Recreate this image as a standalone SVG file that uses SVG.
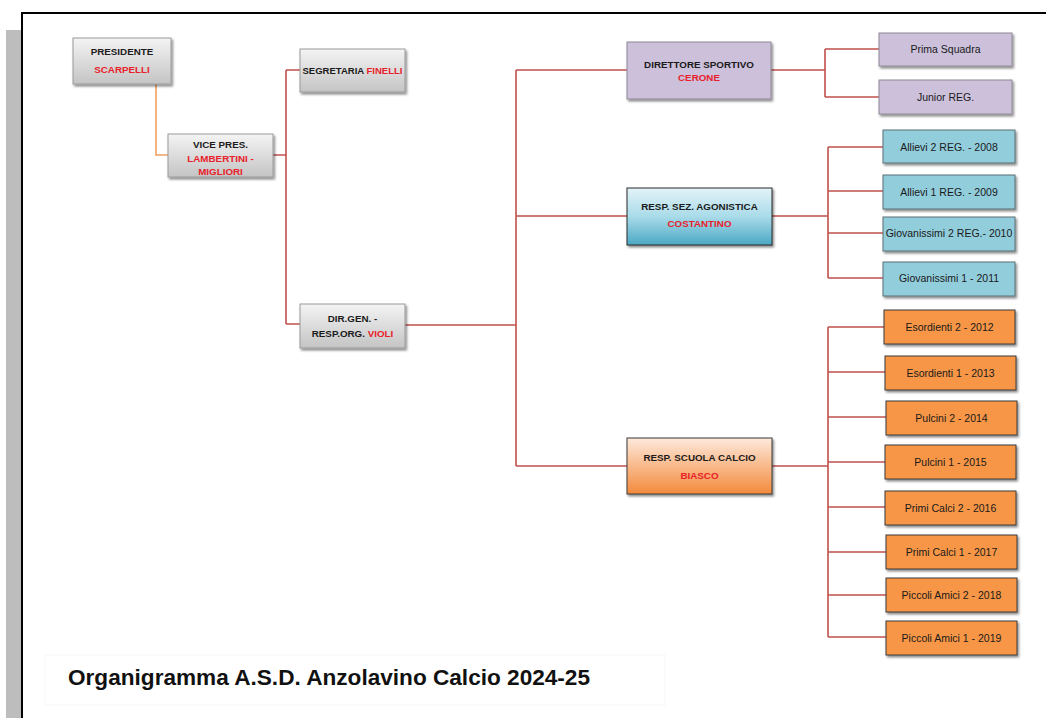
<svg xmlns="http://www.w3.org/2000/svg" width="1046" height="718" viewBox="0 0 1046 718">
<defs>
<linearGradient id="gGrey" x1="0" y1="0" x2="0" y2="1"><stop offset="0" stop-color="#f4f4f4"/><stop offset="1" stop-color="#c4c4c4"/></linearGradient>
<linearGradient id="gBlue" x1="0" y1="0" x2="0" y2="1"><stop offset="0" stop-color="#e4f3f8"/><stop offset="0.5" stop-color="#a9dbe9"/><stop offset="1" stop-color="#4aa8c4"/></linearGradient>
<linearGradient id="gOrange" x1="0" y1="0" x2="0" y2="1"><stop offset="0" stop-color="#fde9dc"/><stop offset="0.5" stop-color="#f9b98a"/><stop offset="1" stop-color="#f38a3c"/></linearGradient>
<filter id="sh" x="-10%" y="-10%" width="125%" height="140%"><feDropShadow dx="1.5" dy="2" stdDeviation="1.2" flood-color="#000" flood-opacity="0.45"/></filter>
<style>
.box{stroke-width:1;filter:url(#sh)}
.grey{fill:url(#gGrey);stroke:#9a9a9a}
.purple{fill:#ccc0da;stroke:#8e8896}
.bluegr{fill:url(#gBlue);stroke:#2b2b2b}
.blue{fill:#92cddc;stroke:#5b6f75}
.orgr{fill:url(#gOrange);stroke:#3a3a3a}
.orange{fill:#f79646;stroke:#3a3a3a}
text{font-family:"Liberation Sans",Arial,sans-serif}
.h{font-size:9.8px;font-weight:bold;fill:#1a1a1a;text-anchor:middle}
.r{fill:#e8202a}
.c{font-size:10.5px;fill:#1a1a1a;text-anchor:middle}
.ln{fill:none;stroke:#c0504d;stroke-width:1.6}
.lo{fill:none;stroke:#f0a060;stroke-width:1.6}
</style>
</defs>
<rect x="0" y="0" width="1046" height="718" fill="#ffffff"/>
<rect x="6" y="30" width="15" height="688" fill="#bdbdbd"/>
<path d="M22 718 V13 H1046" fill="none" stroke="#000" stroke-width="2"/>
<rect x="45" y="655" width="620" height="50" fill="none" stroke="#f7f7f7" stroke-width="1"/>
<text x="68" y="685" font-size="22" font-weight="bold" fill="#111" textLength="522" lengthAdjust="spacingAndGlyphs">Organigramma A.S.D. Anzolavino Calcio 2024-25</text>

<g id="connectors">
<path class="lo" d="M156 84 V155 H168"/>
<path class="ln" d="M273 155 H286 M286 70 V324 M286 70 H300 M286 324 H300"/>
<path class="ln" d="M405 325 H516 M516 70 V466 M516 70 H627 M516 216 H627 M516 466 H627"/>
<path class="ln" d="M771 70 H825 M825 49 V97 M825 49 H879 M825 97 H879"/>
<path class="ln" d="M772 216 H828 M828 147 V278 M828 147 H883 M828 191 H883 M828 233 H883 M828 278 H883"/>
<path class="ln" d="M772 466 H828 M828 327 V637 M828 327 H884 M828 372 H885 M828 417 H886 M828 462 H885 M828 507 H885 M828 552 H886 M828 595 H886 M828 637 H886"/>
</g>

<g id="presidente"><rect class="box grey" x="73" y="38" width="98" height="46"/>
<text class="h" x="122" y="55">PRESIDENTE</text><text class="h r" x="122" y="73">SCARPELLI</text></g>

<g id="vicepres"><rect class="box grey" x="168" y="134" width="105" height="43"/>
<text class="h" x="220.5" y="148">VICE PRES.</text><text class="h r" x="220.5" y="162">LAMBERTINI -</text><text class="h r" x="220.5" y="175">MIGLIORI</text></g>

<g id="segretaria"><rect class="box grey" x="300" y="49" width="105" height="43"/>
<text class="h" x="352.5" y="74" textLength="100" lengthAdjust="spacingAndGlyphs">SEGRETARIA <tspan class="r">FINELLI</tspan></text></g>

<g id="dirgen"><rect class="box grey" x="300" y="304" width="105" height="44"/>
<text class="h" x="352.5" y="322">DIR.GEN. -</text><text class="h" x="352.5" y="337">RESP.ORG. <tspan class="r">VIOLI</tspan></text></g>

<g id="direttore"><rect class="box purple" x="627" y="42" width="144" height="57"/>
<text class="h" x="699" y="67.5">DIRETTORE SPORTIVO</text><text class="h r" x="699" y="80.5">CERONE</text></g>

<g id="agonistica"><rect class="box bluegr" x="627" y="188" width="145" height="57"/>
<text class="h" x="699.5" y="210">RESP. SEZ. AGONISTICA</text><text class="h r" x="699.5" y="227">COSTANTINO</text></g>

<g id="scuola"><rect class="box orgr" x="627" y="438" width="145" height="56"/>
<text class="h" x="699.5" y="460.5">RESP. SCUOLA CALCIO</text><text class="h r" x="699.5" y="479">BIASCO</text></g>

<g id="prima"><rect class="box purple" x="879" y="33" width="133" height="33"/><text class="c" x="945.5" y="53">Prima Squadra</text></g>
<g id="junior"><rect class="box purple" x="879" y="80" width="133" height="34"/><text class="c" x="945.5" y="101">Junior REG.</text></g>

<g id="allievi2"><rect class="box blue" x="883" y="130" width="132" height="33"/><text class="c" x="949" y="150.5">Allievi 2 REG. - 2008</text></g>
<g id="allievi1"><rect class="box blue" x="883" y="175" width="132" height="34"/><text class="c" x="949" y="195.5">Allievi 1 REG. - 2009</text></g>
<g id="giov2"><rect class="box blue" x="883" y="217" width="132" height="34"/><text class="c" x="949" y="237">Giovanissimi 2 REG.- 2010</text></g>
<g id="giov1"><rect class="box blue" x="883" y="262" width="132" height="34"/><text class="c" x="949" y="282">Giovanissimi 1 - 2011</text></g>

<g id="esord2"><rect class="box orange" x="884" y="310" width="131" height="34"/><text class="c" x="949.5" y="331">Esordienti 2 - 2012</text></g>
<g id="esord1"><rect class="box orange" x="885" y="356" width="131" height="34"/><text class="c" x="950.5" y="376.5">Esordienti 1 - 2013</text></g>
<g id="pulcini2"><rect class="box orange" x="886" y="401" width="131" height="34"/><text class="c" x="951.5" y="421.5">Pulcini 2 - 2014</text></g>
<g id="pulcini1"><rect class="box orange" x="885" y="445" width="131" height="34"/><text class="c" x="950.5" y="466">Pulcini 1 - 2015</text></g>
<g id="primicalci2"><rect class="box orange" x="885" y="491" width="131" height="34"/><text class="c" x="950.5" y="511.5">Primi Calci 2 - 2016</text></g>
<g id="primicalci1"><rect class="box orange" x="886" y="535" width="131" height="34"/><text class="c" x="951.5" y="556">Primi Calci 1 - 2017</text></g>
<g id="piccoli2"><rect class="box orange" x="886" y="578" width="131" height="34"/><text class="c" x="951.5" y="599">Piccoli Amici 2 - 2018</text></g>
<g id="piccoli1"><rect class="box orange" x="886" y="621" width="131" height="34"/><text class="c" x="951.5" y="641.5">Piccoli Amici 1 - 2019</text></g>
</svg>
